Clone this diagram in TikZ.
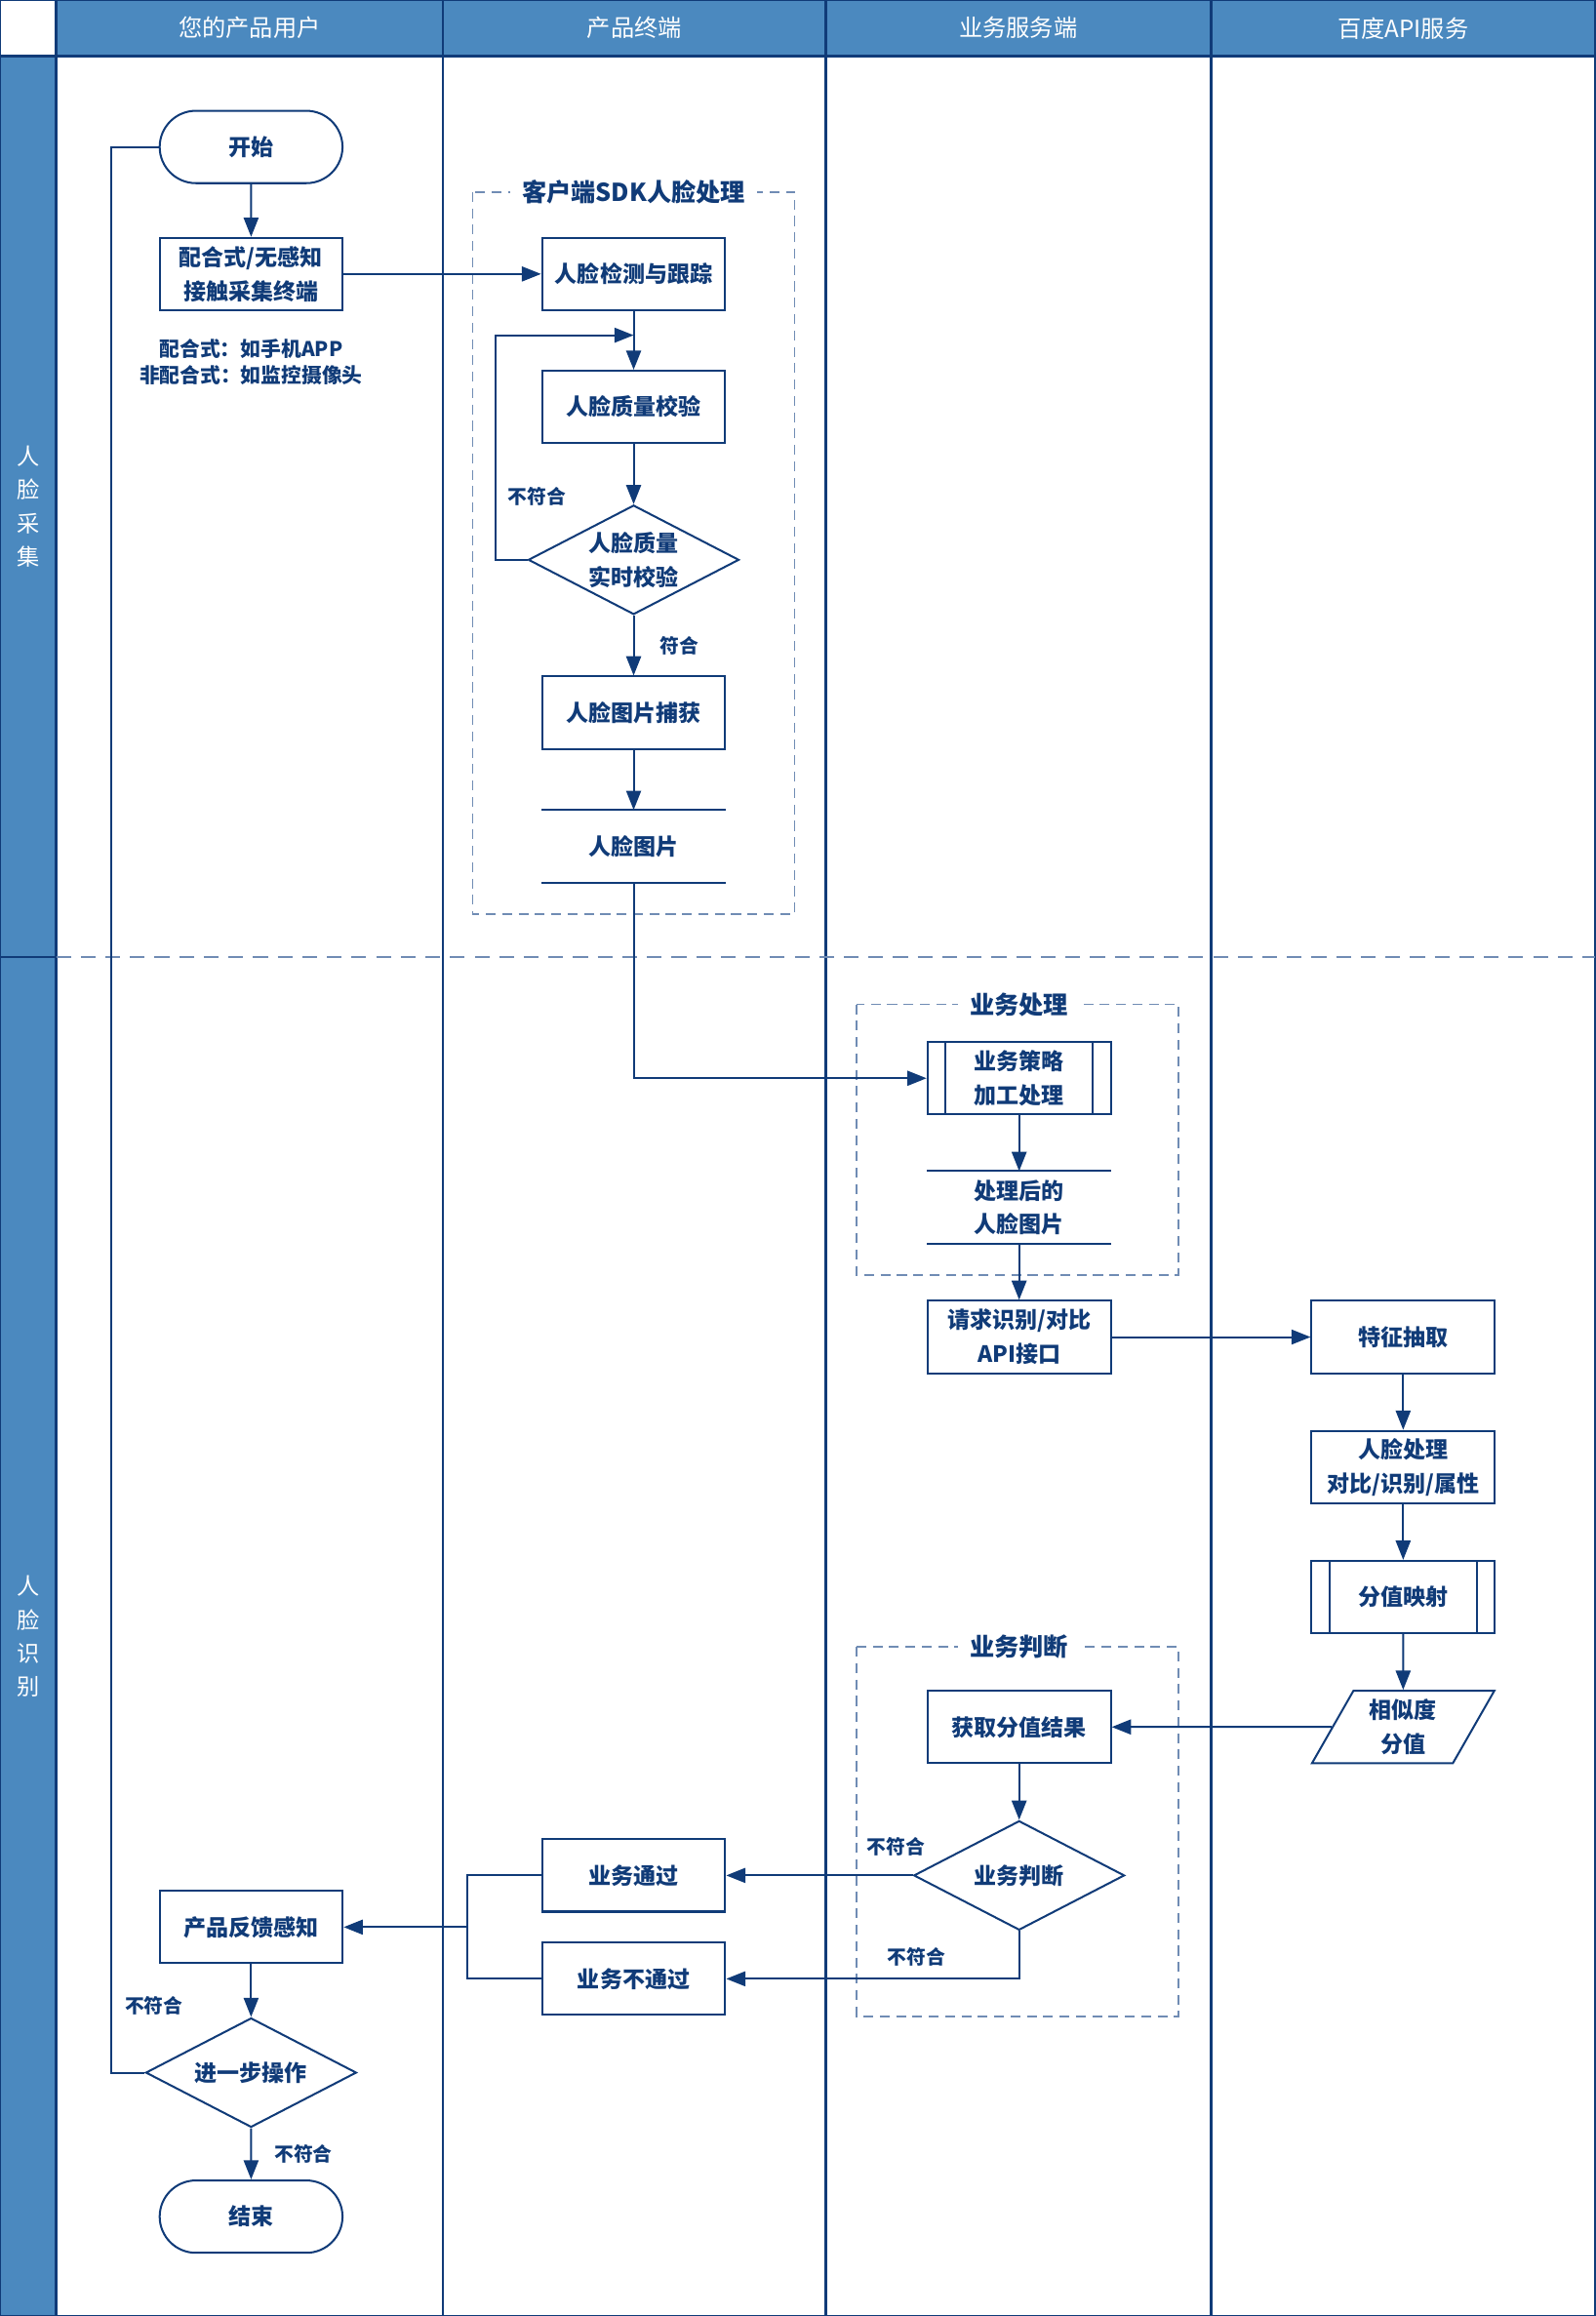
\documentclass[tikz,border=0pt]{standalone}
\usepackage{fontspec}
\setmainfont{Noto Sans CJK SC}
\usetikzlibrary{shapes.geometric, shapes.misc, arrows.meta, positioning, calc}

\definecolor{navy}{RGB}{16,59,120}
\definecolor{lanefill}{RGB}{75,137,191}
\definecolor{dashblue}{RGB}{112,140,180}

\newcommand\nodefont{\fontsize{11.4pt}{17.25pt}\selectfont\bfseries}
\newcommand\grpfont{\fontsize{12.5pt}{15pt}\selectfont\bfseries}
\newcommand\lblfont{\fontsize{9.8pt}{12pt}\selectfont\bfseries}
\newcommand\notefont{\fontsize{10.3pt}{13.5pt}\selectfont\bfseries}
\newcommand\hdrfont{\fontsize{12pt}{14pt}\selectfont}
\newcommand\rowfont{\fontsize{11.5pt}{17pt}\selectfont}

\tikzset{
    terminator/.style = {rounded rectangle, minimum width=99.5pt, minimum height=36.75pt, text centered, draw=navy, line width=1pt, text=navy, font=\nodefont},
    process/.style = {rectangle, minimum width=93pt, minimum height=36.75pt, align=center, draw=navy, line width=1pt, text=navy, font=\nodefont},
    predef/.style = {process, path picture={
        \draw[navy, line width=1pt] ([xshift=9pt]path picture bounding box.north west) -- ([xshift=9pt]path picture bounding box.south west);
        \draw[navy, line width=1pt] ([xshift=-9pt]path picture bounding box.north east) -- ([xshift=-9pt]path picture bounding box.south east);}},
    decision/.style = {diamond, aspect=1.93, inner sep=0pt, minimum width=107pt, minimum height=55.5pt, align=center, draw=navy, line width=1pt, text=navy, font=\nodefont},
    store/.style = {rectangle, minimum width=93pt, minimum height=36.75pt, align=center, text=navy, font=\nodefont},
    ioshape/.style = {trapezium, trapezium left angle=64, trapezium right angle=116, trapezium stretches=true, minimum width=93pt, minimum height=36.75pt, align=center, draw=navy, line width=1pt, text=navy, font=\nodefont},
    note/.style = {align=center, inner sep=0pt, text=navy, font=\notefont},
    lbl/.style = {text=navy, font=\lblfont},
    grouptitle/.style = {fill=white, inner xsep=6pt, text=navy, font=\grpfont},
    groupbox/.style = {draw=dashblue, line width=0.9pt, dash pattern=on 5pt off 3.3pt},
    hdr/.style = {text=white, font=\hdrfont},
    rowlbl/.style = {align=center, text=white, font=\rowfont},
    grid/.style = {draw=navy, line width=1.2pt},
    arrow/.style = {draw=navy, line width=1pt, -{Triangle[length=9.75pt, width=7.5pt]}},
    link/.style = {draw=navy, line width=1pt}
}

\begin{document}
\begin{tikzpicture}
\useasboundingbox (0,0) rectangle (810pt,-1176pt);

% Swimlanes
\fill [lanefill] (0,0) rectangle (810pt,-28.5pt);
\fill [white] (0,0) rectangle (28.5pt,-28.5pt);
\fill [lanefill] (0,-28.5pt) rectangle (28.5pt,-1176pt);
\draw [grid] (0,0) rectangle (810pt,-1176pt);
\draw [grid] (0,-28.5pt) -- (810pt,-28.5pt);
\foreach \x in {28.5,225,419.25,615}
    \draw [grid] (\x pt,0) -- (\x pt,-1176pt);
\draw [grid] (0,-486pt) -- (28.5pt,-486pt);
\draw [draw=dashblue, line width=0.9pt, dash pattern=on 7.5pt off 5pt] (28.5pt,-486pt) -- (810pt,-486pt);

\node (hUser) [hdr] at (126.75pt,-14.25pt) {您的产品用户};
\node (hClient) [hdr] at (322.1pt,-14.25pt) {产品终端};
\node (hServer) [hdr] at (517.1pt,-14.25pt) {业务服务端};
\node (hBaidu) [hdr] at (712.5pt,-14.25pt) {百度API服务};
\node (rCollect) [rowlbl] at (14.25pt,-257.25pt) {人\\脸\\采\\集};
\node (rRecog) [rowlbl] at (14.25pt,-831pt) {人\\脸\\识\\别};

% Lane 1 (top)
\node (start) [terminator] at (127.5pt,-74.625pt) {开始};
\node (device) [process, below=26.75pt of start] {配合式/无感知\\接触采集终端};
\node (devnote) [note, below=14pt of device] {配合式：如手机APP\\非配合式：如监控摄像头};

% Lane 2: client SDK
\node (detect) [process] at (321.75pt,-139.125pt) {人脸检测与跟踪};
\node (quality) [process, below=29.75pt of detect] {人脸质量校验};
\node (qcheck) [decision, below=30.5pt of quality] {人脸质量\\实时校验};
\node (grab) [process, below=30.5pt of qcheck] {人脸图片捕获};
\node (faceimg) [store, below=30.5pt of grab] {人脸图片};
\coordinate (loopin) at ($(detect.south)!0.41!(quality.north)$);
\draw [groupbox] (240pt,-97.5pt) rectangle (403.5pt,-464.25pt);
\node (sdkTitle) [grouptitle] at (321.75pt,-97.5pt) {客户端SDK人脸处理};

% Lane 3: business processing
\node (strategy) [predef] at (517.5pt,-547.5pt) {业务策略\\加工处理};
\node (processed) [store, below=28.25pt of strategy] {处理后的\\人脸图片};
\node (request) [process, below=28.25pt of processed] {请求识别/对比\\API接口};
\draw [groupbox] (435pt,-510pt) rectangle (598.5pt,-647.25pt);
\node (procTitle) [grouptitle] at (517.5pt,-510pt) {业务处理};

% Lane 4: Baidu API
\node (feature) [process, right=101pt of request] {特征抽取};
\node (faceproc) [process, below=28.25pt of feature] {人脸处理\\对比/识别/属性};
\node (scoremap) [predef, below=28.25pt of faceproc] {分值映射};
\node (similar) [ioshape, below=28.25pt of scoremap] {相似度\\分值};

% Lane 3: business judgement
\node (getscore) [process] at (request |- similar) {获取分值结果};
\node (judge) [decision, below=28.25pt of getscore] {业务判断};
\node (pass) [process] at (grab |- judge) {业务通过};
\node (fail) [process, below=14.75pt of pass] {业务不通过};
\draw [groupbox] (435pt,-836.25pt) rectangle (598.5pt,-1023.75pt);
\node (judgeTitle) [grouptitle] at (517.5pt,-836.25pt) {业务判断};

% Lane 1 (bottom)
\coordinate (join) at ($(pass.west)!0.5!(fail.west)+(-37.5pt,0)$);
\node (feedback) [process] at (start |- join) {产品反馈感知};
\node (further) [decision, below=26.75pt of feedback] {进一步操作};
\node (finish) [terminator, below=26pt of further] {结束};

% Data stores
\draw [link] (faceimg.north west) -- (faceimg.north east);
\draw [link] (faceimg.south west) -- (faceimg.south east);
\draw [link] (processed.north west) -- (processed.north east);
\draw [link] (processed.south west) -- (processed.south east);

% Main flow
\draw [arrow] (start) -- (device);
\draw [arrow] (device) -- (detect);
\draw [arrow] (detect) -- (quality);
\draw [arrow] (quality) -- (qcheck);
\draw [arrow] (qcheck) -- node[lbl, right=9.5pt] (okA) {符合} (grab);
\draw [arrow] (qcheck.west) -- ++(-16.25pt,0) |- node[lbl, pos=0.142, right=2.5pt] (noA) {不符合} (loopin);
\draw [arrow] (grab) -- (faceimg);
\draw [arrow] (faceimg.south) |- (strategy.west);
\draw [arrow] (strategy) -- (processed);
\draw [arrow] (processed) -- (request);
\draw [arrow] (request) -- (feature);
\draw [arrow] (feature) -- (faceproc);
\draw [arrow] (faceproc) -- (scoremap);
\draw [arrow] (scoremap) -- (similar);
\draw [arrow] (similar.west) -- (getscore.east);
\draw [arrow] (getscore) -- (judge);
\draw [arrow] (judge.west) -- node[lbl, pos=0.09, above=6pt] (noB) {不符合} (pass.east);
\draw [arrow] (judge.south) |- node[lbl, pos=0.675, above=2.5pt] (noC) {不符合} (fail.east);
\draw [link] (pass.west) -| (join) |- (fail.west);
\draw [arrow] (join) -- (feedback.east);
\draw [arrow] (feedback) -- (further);
\draw [arrow] (further) -- node[lbl, right=8pt] (noE) {不符合} (finish);
\draw [link] (further.west) -- ++(-17.25pt,0) |- node[lbl, pos=0.0175, right=3.4pt] (noD) {不符合} (start.west);

\end{tikzpicture}
\end{document}
